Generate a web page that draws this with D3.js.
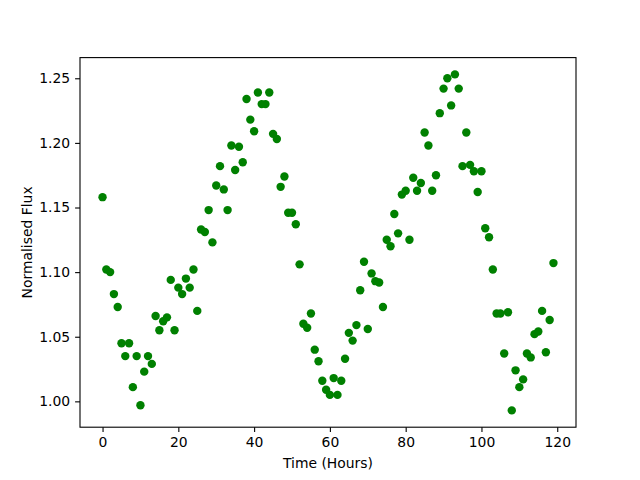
<!DOCTYPE html>
<html>
<head>
<meta charset="utf-8">
<script src="https://cdn.jsdelivr.net/npm/d3@7"></script>
<style>
  html, body { margin: 0; padding: 0; background: #fff; }
  svg { display: block; font-family: 'DejaVu Sans', sans-serif; }
</style>
</head>
<body>
<div id="chart"></div>
<script>
// hourly samples
const hours = d3.range(0, 120)

const flux = [
  1.158, 1.102, 1.100, 1.083, 1.073, 1.045, 1.035, 1.045, 1.011, 1.035,
  0.997, 1.023, 1.035, 1.029, 1.066, 1.055, 1.062, 1.065, 1.094, 1.055,
  1.088, 1.083, 1.095, 1.088, 1.102, 1.070, 1.133, 1.131, 1.148, 1.123,
  1.167, 1.182, 1.164, 1.148, 1.198, 1.179, 1.197, 1.185, 1.234, 1.218,
  1.209, 1.239, 1.230, 1.230, 1.239, 1.207, 1.203, 1.166, 1.174, 1.146,
  1.146, 1.137, 1.106, 1.060, 1.057, 1.068, 1.040, 1.031, 1.016, 1.009,
  1.005, 1.018, 1.005, 1.016, 1.033, 1.053, 1.047, 1.059, 1.086, 1.108,
  1.056, 1.099, 1.093, 1.092, 1.073, 1.125, 1.120, 1.145, 1.130, 1.160,
  1.163, 1.125, 1.173, 1.163, 1.169, 1.208, 1.198, 1.163, 1.175, 1.223,
  1.242, 1.250, 1.229, 1.253, 1.242, 1.182, 1.208, 1.183, 1.178, 1.162,
  1.178, 1.134, 1.127, 1.102, 1.068, 1.068, 1.037, 1.069, 0.993, 1.024,
  1.011, 1.017, 1.037, 1.034, 1.052, 1.054, 1.070, 1.038, 1.063, 1.107
]

const xTicks = [0, 20, 40, 60, 80, 100, 120]
const yTicks = [1.00, 1.05, 1.10, 1.15, 1.20, 1.25]

const width = 640
const height = 480
const margin = { top: 57.6, right: 64, bottom: 52.8, left: 80 }

const svg = d3.select('#chart')
  .append('svg')
  .attr('width', width)
  .attr('height', height)

// matplotlib style 5% margins around the data
const pad = (lo, hi) => { const m = (hi - lo) * 0.05; return [lo - m, hi + m] }

const x = d3.scaleLinear()
  .domain(pad(d3.min(hours), d3.max(hours)))
  .range([margin.left, width - margin.right])

const y = d3.scaleLinear()
  .domain(pad(d3.min(flux), d3.max(flux)))
  .range([height - margin.bottom, margin.top])

// Points
svg.append('g')
  .selectAll('circle')
  .data(hours)
  .join('circle')
  .attr('cx', d => x(d))
  .attr('cy', (d, i) => y(flux[i]))
  .attr('r', 4.2)
  .attr('fill', '#008000')

// Axes
const xAxis = svg.append('g')
  .attr('transform', `translate(0,${height - margin.bottom})`)
  .call(d3.axisBottom(x).tickValues(xTicks).tickSize(4.9).tickPadding(4.9))

const yAxis = svg.append('g')
  .attr('transform', `translate(${margin.left},0)`)
  .call(d3.axisLeft(y).tickValues(yTicks).tickFormat(d3.format('.2f')).tickSize(4.9).tickPadding(4.9))

for (const ax of [xAxis, yAxis]) {
  ax.select('.domain').remove()
  ax.selectAll('line').attr('stroke', '#000').attr('stroke-width', 1.1)
  ax.selectAll('text')
    .attr('fill', '#000')
    .attr('font-size', '13.9px')
    .attr('font-family', 'DejaVu Sans, sans-serif')
}

// Frame
svg.append('rect')
  .attr('x', margin.left)
  .attr('y', margin.top)
  .attr('width', width - margin.left - margin.right)
  .attr('height', height - margin.top - margin.bottom)
  .attr('fill', 'none')
  .attr('stroke', '#000')
  .attr('stroke-width', 1.1)

// Labels
svg.append('text')
  .attr('x', (margin.left + width - margin.right) / 2)
  .attr('y', 468)
  .attr('text-anchor', 'middle')
  .attr('font-size', '13.9px')
  .text('Time (Hours)')

svg.append('text')
  .attr('transform', `translate(32,${(margin.top + height - margin.bottom) / 2}) rotate(-90)`)
  .attr('text-anchor', 'middle')
  .attr('font-size', '13.9px')
  .text('Normalised Flux')
</script>
</body>
</html>
